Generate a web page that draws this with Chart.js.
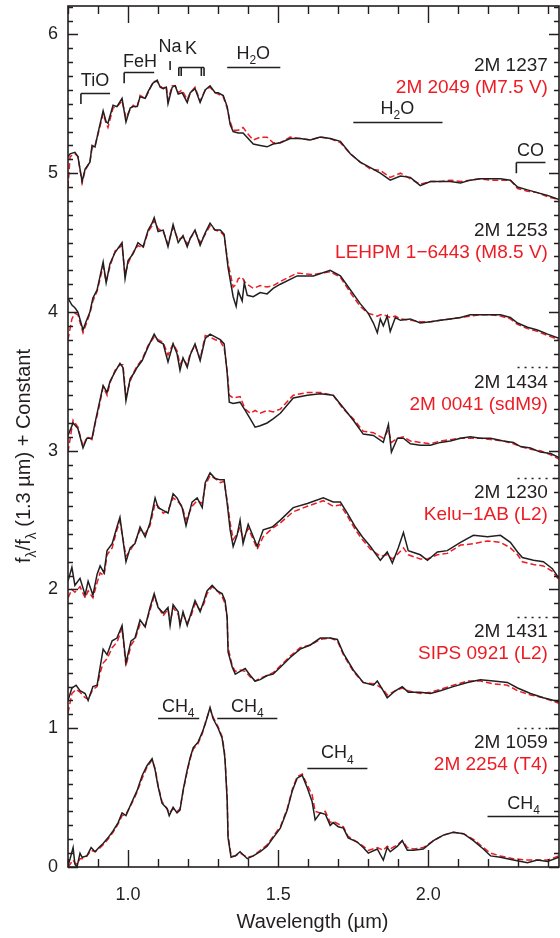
<!DOCTYPE html>
<html>
<head>
<meta charset="utf-8">
<script src="https://cdn.jsdelivr.net/npm/chart.js@4.4.1/dist/chart.umd.min.js"></script>
<style>
html,body{margin:0;padding:0;background:#fff;}
canvas{display:block;}
</style>
</head>
<body>
<canvas id="c" width="560" height="938"></canvas>
<script>
// ---------- DATA (wavelength in micron, normalized flux + constant) ----------
const wl1237 = [0.800,0.807,0.823,0.833,0.847,0.857,0.873,0.880,0.890,0.900,
  0.917,0.927,0.933,0.950,0.963,0.980,0.993,1.007,1.017,1.030,
  1.040,1.057,1.067,1.083,1.097,1.107,1.117,1.127,1.133,1.147,
  1.157,1.167,1.180,1.197,1.207,1.223,1.240,1.257,1.273,1.290,
  1.300,1.317,1.330,1.340,1.350,1.367,1.383,1.400,1.417,1.440,
  1.463,1.483,1.507,1.540,1.573,1.607,1.640,1.673,1.707,1.740,
  1.773,1.807,1.840,1.873,1.907,1.940,1.973,2.007,2.040,2.073,
  2.107,2.140,2.173,2.207,2.240,2.273,2.297,2.330,2.363,2.397,
  2.435];
const f1237 = [5.12,5.14,5.15,5.12,4.94,5.03,5.08,5.20,5.19,5.29,
  5.45,5.37,5.36,5.49,5.48,5.54,5.37,5.47,5.48,5.48,
  5.55,5.54,5.59,5.65,5.67,5.62,5.61,5.62,5.50,5.62,
  5.63,5.57,5.58,5.51,5.58,5.61,5.51,5.60,5.63,5.58,
  5.58,5.56,5.48,5.35,5.30,5.29,5.29,5.25,5.21,5.20,
  5.19,5.21,5.22,5.25,5.25,5.24,5.26,5.25,5.23,5.14,
  5.08,5.04,5.00,4.95,4.98,4.97,4.91,4.94,4.94,4.94,
  4.93,4.95,4.96,4.96,4.96,4.95,4.90,4.88,4.86,4.84,
  4.81];
const f2049 = [4.90,5.12,5.14,5.12,4.93,5.02,5.08,5.18,5.20,5.28,
  5.43,5.36,5.33,5.47,5.48,5.52,5.40,5.46,5.49,5.47,
  5.56,5.54,5.58,5.66,5.66,5.63,5.61,5.63,5.53,5.63,
  5.63,5.58,5.60,5.53,5.58,5.62,5.52,5.60,5.62,5.58,
  5.57,5.55,5.47,5.37,5.31,5.31,5.33,5.28,5.24,5.26,
  5.26,5.22,5.22,5.26,5.25,5.24,5.26,5.25,5.22,5.14,
  5.08,5.03,5.02,4.97,5.00,4.96,4.92,4.94,4.94,4.95,
  4.94,4.95,4.96,4.95,4.95,4.95,4.89,4.87,4.86,4.83,
  4.81];

const wl1253 = [0.800,0.813,0.823,0.833,0.850,0.860,0.873,0.883,0.897,0.907,
  0.917,0.927,0.940,0.957,0.980,0.990,1.000,1.017,1.033,1.050,
  1.067,1.080,1.087,1.100,1.117,1.133,1.150,1.167,1.183,1.197,
  1.207,1.223,1.240,1.257,1.273,1.290,1.307,1.320,1.333,1.350,
  1.360,1.367,1.380,1.387,1.397,1.417,1.440,1.463,1.483,1.507,
  1.563,1.617,1.673,1.707,1.740,1.773,1.800,1.817,1.830,1.840,
  1.850,1.863,1.873,1.890,1.907,1.940,1.973,2.007,2.040,2.073,
  2.107,2.140,2.173,2.207,2.240,2.273,2.297,2.330,2.363,2.397,
  2.435];
const f1253 = [4.10,4.05,4.03,4.00,3.87,3.93,4.00,4.10,4.16,4.26,
  4.36,4.21,4.35,4.43,4.50,4.24,4.37,4.42,4.50,4.47,
  4.59,4.64,4.68,4.58,4.59,4.47,4.63,4.50,4.55,4.47,
  4.53,4.59,4.48,4.57,4.64,4.59,4.59,4.56,4.32,4.11,
  4.04,4.15,4.08,4.21,4.12,4.11,4.14,4.13,4.17,4.20,
  4.26,4.26,4.30,4.26,4.16,4.06,3.99,3.92,3.85,3.95,
  3.90,3.97,3.86,3.96,3.94,3.95,3.92,3.93,3.94,3.95,
  3.96,3.98,3.98,3.98,3.98,3.96,3.92,3.89,3.87,3.84,
  3.81];
const fLEHPM = [3.80,3.95,3.99,3.98,3.85,3.91,3.99,4.08,4.15,4.24,
  4.33,4.22,4.33,4.44,4.48,4.27,4.35,4.43,4.48,4.46,
  4.58,4.62,4.66,4.60,4.58,4.49,4.61,4.52,4.54,4.49,
  4.53,4.58,4.50,4.56,4.62,4.59,4.58,4.55,4.35,4.18,
  4.20,4.24,4.25,4.22,4.20,4.17,4.19,4.18,4.19,4.22,
  4.28,4.27,4.29,4.25,4.14,4.04,3.99,3.98,3.97,3.98,
  3.98,3.97,3.96,3.97,3.95,3.94,3.93,3.93,3.94,3.95,
  3.96,3.97,3.98,3.98,3.97,3.95,3.91,3.88,3.86,3.83,
  3.80];

const wl1434 = [0.800,0.817,0.833,0.850,0.863,0.880,0.890,0.903,0.917,0.930,
  0.940,0.957,0.973,0.983,0.993,1.007,1.020,1.030,1.047,1.067,
  1.087,1.100,1.117,1.133,1.150,1.163,1.173,1.183,1.197,1.207,
  1.223,1.240,1.257,1.273,1.290,1.307,1.320,1.330,1.337,1.350,
  1.373,1.390,1.407,1.423,1.440,1.463,1.483,1.507,1.550,1.597,
  1.640,1.683,1.717,1.750,1.783,1.817,1.850,1.867,1.877,1.897,
  1.917,1.940,1.973,2.007,2.040,2.073,2.107,2.140,2.173,2.207,
  2.250,2.283,2.307,2.340,2.373,2.407,2.435];
const f1434 = [3.11,3.20,3.16,3.02,3.09,3.09,3.20,3.33,3.47,3.42,
  3.50,3.57,3.63,3.60,3.36,3.52,3.56,3.60,3.65,3.75,
  3.84,3.79,3.77,3.64,3.77,3.70,3.58,3.67,3.60,3.69,
  3.77,3.65,3.81,3.84,3.82,3.80,3.77,3.56,3.35,3.34,
  3.35,3.29,3.23,3.17,3.18,3.20,3.23,3.27,3.38,3.40,
  3.41,3.40,3.31,3.22,3.12,3.11,3.06,3.19,2.99,3.09,
  3.09,3.05,3.04,3.04,3.06,3.07,3.09,3.10,3.09,3.09,
  3.07,3.06,3.03,3.02,2.99,2.98,2.95];
const f0041 = [2.99,3.22,3.17,3.03,3.10,3.08,3.19,3.31,3.46,3.40,
  3.49,3.58,3.62,3.62,3.39,3.50,3.57,3.61,3.66,3.76,
  3.82,3.80,3.78,3.69,3.77,3.72,3.62,3.66,3.62,3.70,
  3.76,3.66,3.83,3.82,3.80,3.79,3.74,3.58,3.40,3.38,
  3.39,3.30,3.27,3.29,3.27,3.29,3.28,3.30,3.40,3.42,
  3.42,3.40,3.30,3.23,3.14,3.13,3.09,3.15,3.06,3.09,
  3.10,3.07,3.06,3.05,3.07,3.08,3.09,3.09,3.09,3.08,
  3.07,3.05,3.03,3.01,3.00,2.97,2.94];

const wl1230 = [0.800,0.813,0.823,0.840,0.857,0.867,0.883,0.897,0.907,0.920,
  0.930,0.947,0.963,0.973,0.993,1.007,1.023,1.040,1.057,1.073,
  1.090,1.100,1.117,1.133,1.150,1.163,1.180,1.193,1.213,1.230,
  1.247,1.257,1.273,1.290,1.307,1.320,1.330,1.340,1.350,1.363,
  1.373,1.383,1.400,1.417,1.430,1.450,1.480,1.507,1.550,1.597,
  1.650,1.683,1.707,1.730,1.757,1.780,1.807,1.840,1.863,1.880,
  1.900,1.917,1.933,1.973,1.997,2.030,2.063,2.107,2.150,2.197,
  2.240,2.273,2.297,2.313,2.350,2.383,2.413,2.435];
const f1230 = [2.06,2.16,2.03,2.08,1.96,2.06,1.96,2.11,2.17,2.12,
  2.28,2.33,2.45,2.52,2.20,2.30,2.33,2.45,2.38,2.48,
  2.66,2.59,2.57,2.55,2.69,2.66,2.59,2.46,2.63,2.66,
  2.59,2.77,2.84,2.80,2.79,2.79,2.62,2.43,2.31,2.39,
  2.50,2.33,2.47,2.38,2.31,2.43,2.45,2.50,2.59,2.62,
  2.66,2.63,2.63,2.55,2.45,2.38,2.31,2.21,2.27,2.19,
  2.30,2.41,2.28,2.25,2.21,2.27,2.28,2.34,2.39,2.38,
  2.39,2.34,2.27,2.23,2.21,2.20,2.15,2.08];
const fKelu = [1.94,2.00,1.98,2.02,1.94,1.99,1.94,2.05,2.12,2.10,
  2.25,2.30,2.43,2.49,2.24,2.28,2.34,2.43,2.40,2.46,
  2.62,2.60,2.55,2.57,2.66,2.64,2.60,2.50,2.60,2.64,
  2.62,2.75,2.82,2.80,2.77,2.78,2.64,2.48,2.36,2.40,
  2.45,2.36,2.44,2.36,2.29,2.38,2.44,2.48,2.56,2.60,
  2.64,2.60,2.61,2.53,2.43,2.36,2.29,2.24,2.25,2.22,
  2.26,2.30,2.25,2.22,2.22,2.25,2.26,2.32,2.33,2.35,
  2.34,2.30,2.25,2.20,2.18,2.17,2.13,2.07];

const wl1431 = [0.800,0.813,0.827,0.840,0.857,0.867,0.883,0.897,0.907,0.917,
  0.930,0.947,0.963,0.980,0.993,1.010,1.023,1.040,1.057,1.073,
  1.087,1.100,1.117,1.133,1.140,1.150,1.167,1.173,1.183,1.197,
  1.210,1.223,1.240,1.253,1.263,1.280,1.297,1.313,1.323,1.330,
  1.333,1.347,1.357,1.373,1.390,1.407,1.423,1.440,1.463,1.483,
  1.507,1.540,1.573,1.607,1.640,1.673,1.697,1.717,1.750,1.783,
  1.817,1.830,1.850,1.863,1.890,1.913,1.933,1.973,2.007,2.040,
  2.083,2.130,2.173,2.217,2.263,2.297,2.340,2.383,2.435];
const f1431 = [1.20,1.29,1.31,1.27,1.25,1.20,1.30,1.31,1.44,1.57,
  1.53,1.63,1.65,1.74,1.47,1.63,1.65,1.78,1.73,1.87,
  1.97,1.87,1.83,1.87,1.74,1.89,1.84,1.74,1.84,1.74,
  1.83,1.92,1.84,1.92,1.99,2.03,1.99,1.97,1.92,1.80,
  1.55,1.44,1.39,1.41,1.43,1.38,1.34,1.35,1.38,1.39,
  1.44,1.51,1.57,1.60,1.65,1.65,1.64,1.54,1.42,1.33,
  1.31,1.34,1.27,1.22,1.27,1.30,1.26,1.26,1.25,1.27,
  1.30,1.33,1.35,1.34,1.33,1.29,1.25,1.22,1.19];
const fSIPS = [1.11,1.25,1.28,1.26,1.22,1.21,1.28,1.30,1.40,1.47,
  1.50,1.58,1.62,1.72,1.45,1.60,1.64,1.75,1.74,1.85,
  1.95,1.88,1.81,1.86,1.76,1.87,1.82,1.76,1.82,1.76,
  1.81,1.90,1.85,1.90,1.97,2.02,1.99,1.95,1.90,1.79,
  1.58,1.45,1.41,1.42,1.41,1.37,1.34,1.36,1.38,1.40,
  1.45,1.52,1.58,1.60,1.64,1.65,1.63,1.53,1.41,1.33,
  1.32,1.31,1.28,1.24,1.27,1.29,1.27,1.25,1.26,1.28,
  1.31,1.34,1.34,1.32,1.31,1.27,1.24,1.22,1.18];

const wl1059 = [0.800,0.807,0.817,0.823,0.830,0.840,0.847,0.863,0.877,0.890,
  0.903,0.917,0.933,0.950,0.967,0.980,0.993,1.013,1.030,1.047,
  1.063,1.080,1.090,1.100,1.113,1.130,1.137,1.150,1.163,1.173,
  1.183,1.197,1.207,1.217,1.233,1.247,1.257,1.273,1.283,1.300,
  1.313,1.320,1.323,1.330,1.333,1.343,1.357,1.373,1.397,1.417,
  1.440,1.463,1.483,1.507,1.530,1.547,1.563,1.580,1.597,1.613,
  1.623,1.640,1.657,1.673,1.683,1.700,1.717,1.733,1.763,1.783,
  1.800,1.830,1.850,1.863,1.873,1.897,1.913,1.930,1.950,1.983,
  2.017,2.050,2.083,2.117,2.150,2.183,2.207,2.240,2.283,2.330,
  2.363,2.397,2.435];
const f1059 = [0.01,0.06,0.14,0.02,0.00,0.10,0.07,0.08,0.14,0.11,
  0.14,0.17,0.21,0.26,0.32,0.39,0.37,0.47,0.55,0.66,
  0.73,0.78,0.70,0.58,0.46,0.42,0.37,0.43,0.39,0.41,
  0.55,0.70,0.79,0.86,0.90,0.97,1.03,1.15,1.07,1.00,
  0.93,0.83,0.77,0.48,0.21,0.07,0.08,0.11,0.06,0.08,
  0.11,0.15,0.21,0.28,0.41,0.55,0.64,0.66,0.57,0.47,
  0.34,0.39,0.38,0.30,0.32,0.29,0.28,0.21,0.18,0.14,
  0.10,0.13,0.05,0.14,0.11,0.15,0.19,0.12,0.12,0.13,
  0.19,0.23,0.25,0.24,0.19,0.13,0.08,0.07,0.05,0.03,
  0.05,0.04,0.07];
const f2254 = [0.00,0.02,0.05,0.03,0.02,0.06,0.06,0.08,0.12,0.11,
  0.13,0.16,0.20,0.25,0.31,0.37,0.38,0.46,0.54,0.64,
  0.72,0.77,0.71,0.59,0.47,0.42,0.39,0.42,0.40,0.42,
  0.54,0.69,0.78,0.85,0.89,0.96,1.04,1.14,1.08,1.01,
  0.94,0.85,0.78,0.50,0.23,0.08,0.08,0.10,0.07,0.08,
  0.12,0.16,0.22,0.29,0.42,0.56,0.65,0.67,0.59,0.52,
  0.40,0.39,0.40,0.32,0.33,0.31,0.29,0.22,0.18,0.15,
  0.12,0.14,0.12,0.15,0.13,0.16,0.19,0.14,0.13,0.14,
  0.19,0.23,0.25,0.24,0.20,0.14,0.10,0.08,0.06,0.05,
  0.05,0.05,0.08];

// object names (black = target, red = comparison)
const blackNames = ['2M 1237','2M 1253','2M 1434','2M 1230','2M 1431','2M 1059'];
const redNames = ['2M 2049 (M7.5 V)','LEHPM 1\u22126443 (M8.5 V)','2M 0041 (sdM9)','Kelu\u22121AB (L2)','SIPS 0921 (L2)','2M 2254 (T4)'];
const nameY = [5.74,4.55,3.45,2.66,1.655,0.855];       // baseline of black label (data units)
const separatorY = [3.6,2.8,1.8,1.0];
const xTickValues = [1.0,1.5,2.0];
const yTickValues = [0,1,2,3,4,5,6];

// feature annotations: label parts, centre x, text baseline y, bar
const features = [
  {parts:[['TiO']], x:0.890, y:5.627, bar:[0.843,0.940,5.577], ticks:[[0.843,5.498]]},
  {parts:[['FeH']], x:1.040, y:5.764, bar:[0.987,1.087,5.728], ticks:[[0.987,5.649]]},
  {parts:[['Na']], x:1.140, y:5.872, bar:null, ticks:[], stem:[1.140,5.808,5.743]},
  {parts:[['K']], x:1.210, y:5.861, bar:[1.169,1.253,5.764], ticks:[[1.169,5.700],[1.177,5.700],[1.244,5.700],[1.253,5.700]]},
  {parts:[['H'],['2',1],['O']], x:1.417, y:5.822, bar:[1.330,1.507,5.764], ticks:[]},
  {parts:[['H'],['2',1],['O']], x:1.897, y:5.425, bar:[1.750,2.047,5.368], ticks:[]},
  {parts:[['CO']], x:2.340, y:5.122, bar:[2.293,2.390,5.079], ticks:[[2.293,5.000]]},
  {parts:[['CH'],['4',1]], x:1.167, y:1.114, bar:[1.100,1.237,1.071], ticks:[]},
  {parts:[['CH'],['4',1]], x:1.397, y:1.114, bar:[1.297,1.497,1.071], ticks:[]},
  {parts:[['CH'],['4',1]], x:1.697, y:0.782, bar:[1.597,1.797,0.717], ticks:[]},
  {parts:[['CH'],['4',1]], x:2.317, y:0.415, bar:[2.197,2.435,0.364], ticks:[]}
];

// ---------- CHART ----------
const BLACK = '#231f20', RED = '#ed1c24';
const FONT = '"Liberation Sans", Arial, Helvetica, sans-serif';
const spectra = [
  [wl1237,f1237,f2049],[wl1253,f1253,fLEHPM],[wl1434,f1434,f0041],
  [wl1230,f1230,fKelu],[wl1431,f1431,fSIPS],[wl1059,f1059,f2254]
];
const pts = (w,f) => w.map((x,i)=>({x:x,y:f[i]}));
const datasets = [];
spectra.forEach((s,i)=>datasets.push({label:blackNames[i], data:pts(s[0],s[1]), borderColor:BLACK, borderWidth:1.5, pointRadius:0, tension:0, fill:false}));
spectra.forEach((s,i)=>datasets.push({label:redNames[i], data:pts(s[0],s[2]), borderColor:RED, borderWidth:1.5, borderDash:[6,3], pointRadius:0, tension:0, fill:false}));

function drawParts(ctx, parts, cx, by, size, align) {
  const subSize = Math.round(size*0.68);
  let w = 0;
  parts.forEach(p=>{ ctx.font = (p[1]?subSize:size)+'px '+FONT; w += ctx.measureText(p[0]).width; });
  let x = align==='right' ? cx - w : cx - w/2;
  ctx.textAlign = 'left'; ctx.textBaseline = 'alphabetic';
  parts.forEach(p=>{
    ctx.font = (p[1]?subSize:size)+'px '+FONT;
    ctx.fillText(p[0], x, p[1] ? by + size*0.28 : by);
    x += ctx.measureText(p[0]).width;
  });
}

const decor = {
  id:'decor',
  afterDatasetsDraw(chart){
    const {ctx, chartArea:a, scales:{x:sx, y:sy}} = chart;
    const X = v=>sx.getPixelForValue(v), Y = v=>sy.getPixelForValue(v);
    ctx.save();
    ctx.strokeStyle = BLACK; ctx.fillStyle = BLACK;
    // frame
    ctx.lineWidth = 1.6;
    ctx.strokeRect(a.left, a.top, a.right-a.left, a.bottom-a.top);
    // x ticks (inward, bottom and top)
    ctx.lineWidth = 1.4;
    ctx.beginPath();
    for (let k=8;k<=24;k++){
      const v = k/10, px = Math.round(X(v))+0.5;
      const len = (k%5===0)?17:8;
      ctx.moveTo(px,a.bottom); ctx.lineTo(px,a.bottom-len);
      ctx.moveTo(px,a.top); ctx.lineTo(px,a.top+len);
    }
    // y ticks (inward, left and right)
    for (let k=0;k<=62;k++){
      const py = Math.round(Y(k/10))+0.5;
      const len = (k%10===0)?10:5;
      ctx.moveTo(a.left,py); ctx.lineTo(a.left+len,py);
      ctx.moveTo(a.right,py); ctx.lineTo(a.right-len,py);
    }
    ctx.stroke();
    // separators (dotted)
    ctx.lineWidth = 1.5; ctx.setLineDash([2,5]);
    ctx.beginPath();
    separatorY.forEach(v=>{ const py=Math.round(Y(v))+0.5; ctx.moveTo(X(2.297),py); ctx.lineTo(a.right,py); });
    ctx.stroke(); ctx.setLineDash([]);
    // feature bars
    ctx.lineWidth = 1.6;
    ctx.beginPath();
    features.forEach(f=>{
      if (f.bar){ const py=Math.round(Y(f.bar[2]))+0.5; ctx.moveTo(X(f.bar[0]),py); ctx.lineTo(X(f.bar[1]),py);
        f.ticks.forEach(t=>{ ctx.moveTo(X(t[0]),py); ctx.lineTo(X(t[0]),Y(t[1])); }); }
      if (f.stem){ ctx.moveTo(X(f.stem[0]),Y(f.stem[1])); ctx.lineTo(X(f.stem[0]),Y(f.stem[2])); }
    });
    ctx.stroke();
    features.forEach(f=>drawParts(ctx, f.parts, X(f.x), Y(f.y), 18, 'center'));
    // object labels
    blackNames.forEach((n,i)=>{
      ctx.fillStyle = BLACK; drawParts(ctx, [[n]], X(2.398), Y(nameY[i]), 19, 'right');
      ctx.fillStyle = RED; drawParts(ctx, [[redNames[i]]], X(2.398), Y(nameY[i])+22, 19, 'right');
    });
    // axis titles
    ctx.fillStyle = BLACK;
    drawParts(ctx, [['Wavelength (\u00b5m)']], 312.5, 928, 20, 'center');
    ctx.translate(30, 456); ctx.rotate(-Math.PI/2);
    drawParts(ctx, [['f'],['\u03bb',1],['/f'],['\u03bb',1],[' (1.3 \u00b5m) + Constant']], 0, 0, 20, 'center');
    ctx.restore();
  }
};

const noPad = s => { s.paddingTop = 0; s.paddingBottom = 0; s.paddingLeft = 0; s.paddingRight = 0; };

new Chart(document.getElementById('c').getContext('2d'), {
  type:'line',
  data:{datasets},
  options:{
    responsive:false, animation:false, devicePixelRatio:1, parsing:true,
    layout:{padding:{top:6,right:1,left:0,bottom:0}},
    plugins:{legend:{display:false}, tooltip:{enabled:false}},
    scales:{
      x:{type:'linear', min:0.8, max:2.435,
        grid:{display:false, drawTicks:false}, border:{display:false},
        afterBuildTicks:s=>{ s.ticks = xTickValues.map(v=>({value:v})); },
        afterFit:s=>{ s.height = 71; noPad(s); },
        ticks:{font:{family:FONT,size:18}, color:BLACK, padding:17, maxRotation:0, autoSkip:false, callback:v=>Number(v).toFixed(1)}},
      y:{type:'linear', min:0, max:6.205,
        grid:{display:false, drawTicks:false}, border:{display:false},
        afterBuildTicks:s=>{ s.ticks = yTickValues.map(v=>({value:v})); },
        afterFit:s=>{ s.width = 68; noPad(s); },
        ticks:{font:{family:FONT,size:18}, color:BLACK, padding:10, autoSkip:false, callback:v=>String(v)}}
    }
  },
  plugins:[decor]
});
</script>
</body>
</html>
